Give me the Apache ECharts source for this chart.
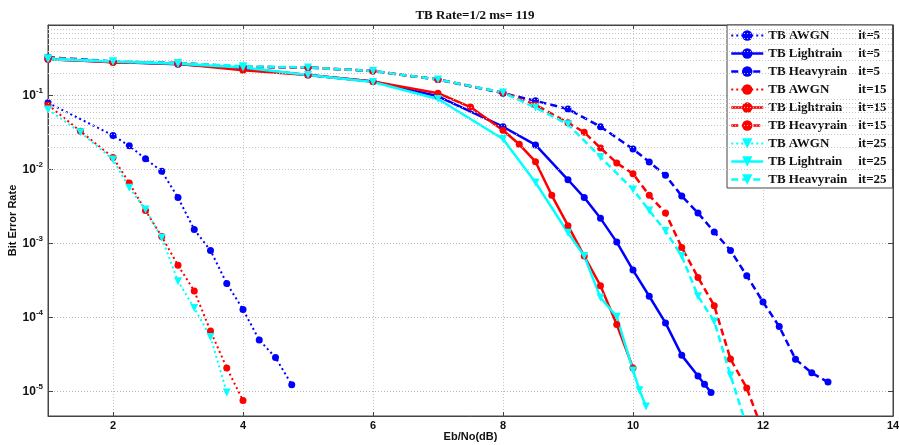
<!DOCTYPE html>
<html>
<head>
<meta charset="utf-8">
<script src="https://cdn.jsdelivr.net/npm/echarts@6/dist/echarts.min.js"></script>
<style>html,body{margin:0;padding:0;background:#fff}#chart{width:899px;height:445px}</style>
</head>
<body>
<div id="chart"></div>
<script>
// values (Eb/No in dB, BER)
var awgn5X = [1, 2, 2.25, 2.5, 2.75, 3, 3.25, 3.5, 3.75, 4, 4.25, 4.5, 4.75];
var awgn5Y = [0.08, 0.029, 0.021, 0.014, 0.0095, 0.0042, 0.00155, 0.00081, 0.00029, 0.000129, 5.0e-5, 2.9e-5, 1.24e-5];
var light5X = [1, 2, 3, 4, 5, 6, 7, 8, 8.5, 9, 9.25, 9.5, 9.75, 10, 10.25, 10.5, 10.75, 11, 11.1, 11.2];
var light5Y = [0.31, 0.285, 0.265, 0.235, 0.19, 0.155, 0.098, 0.038, 0.0216, 0.0073, 0.0042, 0.0022, 0.00105, 0.00044, 0.000195, 8.5e-5, 3.1e-5, 1.63e-5, 1.26e-5, 9.8e-6];
var heavy5X = [1, 2, 3, 4, 5, 6, 7, 8, 8.5, 9, 9.5, 10, 10.25, 10.5, 10.75, 11, 11.25, 11.5, 11.75, 12, 12.25, 12.5, 12.75, 13];
var heavy5Y = [0.33, 0.29, 0.275, 0.245, 0.24, 0.215, 0.165, 0.108, 0.085, 0.066, 0.038, 0.019, 0.0127, 0.0084, 0.0044, 0.0026, 0.00144, 0.00081, 0.00037, 0.000163, 7.6e-5, 2.75e-5, 1.8e-5, 1.35e-5];

var awgn15X = [1, 1.5, 2, 2.25, 2.5, 2.75, 3, 3.25, 3.5, 3.75, 4];
var awgn15Y = [0.075, 0.033, 0.0146, 0.0066, 0.0028, 0.00125, 0.00051, 0.00023, 6.6e-5, 2.1e-5, 7.6e-6];
var light15X = [1, 2, 3, 4, 5, 6, 7, 7.5, 8, 8.25, 8.5, 8.75, 9, 9.25, 9.5, 9.75, 10];
var light15Y = [0.31, 0.285, 0.27, 0.22, 0.19, 0.155, 0.108, 0.07, 0.034, 0.022, 0.0128, 0.0045, 0.00175, 0.00068, 0.00027, 8.1e-5, 2.1e-5];
var heavy15X = [1, 2, 3, 4, 5, 6, 7, 8, 8.5, 9, 9.25, 9.5, 9.75, 10, 10.25, 10.5, 10.75, 11, 11.25, 11.5, 11.75, 12];
var heavy15Y = [0.33, 0.28, 0.275, 0.245, 0.24, 0.215, 0.165, 0.11, 0.075, 0.043, 0.032, 0.0196, 0.0123, 0.0088, 0.0045, 0.0026, 0.00089, 0.00035, 0.000145, 2.76e-5, 1.12e-5, 2.9e-6];

var awgn25X = [1, 1.5, 2, 2.25, 2.5, 2.75, 3, 3.25, 3.5, 3.75];
var awgn25Y = [0.065, 0.032, 0.0137, 0.0057, 0.0029, 0.0012, 0.00031, 0.000135, 5.5e-5, 9.8e-6];
var light25X = [1, 2, 3, 4, 5, 6, 7, 8, 8.5, 9, 9.25, 9.5, 9.75, 10, 10.1, 10.2];
var light25Y = [0.31, 0.29, 0.27, 0.24, 0.19, 0.153, 0.09, 0.026, 0.0067, 0.0014, 0.00068, 0.000187, 0.000103, 1.94e-5, 1.05e-5, 6.3e-6];
var heavy25X = [1, 2, 3, 4, 5, 6, 7, 8, 8.5, 9, 9.5, 10, 10.25, 10.5, 10.75, 11, 11.25, 11.5, 11.75];
var heavy25Y = [0.32, 0.29, 0.275, 0.25, 0.24, 0.215, 0.165, 0.11, 0.069, 0.041, 0.0148, 0.0054, 0.0028, 0.00148, 0.00068, 0.000195, 8.9e-5, 1.66e-5, 3.4e-6];

var names = ['TB AWGN it=5', 'TB Lightrain it=5', 'TB Heavyrain it=5',
             'TB AWGN it=15', 'TB Lightrain it=15', 'TB Heavyrain it=15',
             'TB AWGN it=25', 'TB Lightrain it=25', 'TB Heavyrain it=25'];

function pts(xs, ys) { return xs.map(function (x, i) { return [x, ys[i]]; }); }

// minor log grid lines 2..9 per decade
var minorY = [];
for (var d = -6; d <= 0; d++) {
  for (var k = 2; k <= 9; k++) {
    var v = k * Math.pow(10, d);
    if (v > 4.7e-6 && v < 0.9) minorY.push(v);
  }
}

var DOT = [2, 3], DASH = [7, 4];
function mk(name, color, type, symbol, data, width) {
  return {
    name: name, type: 'line', data: data,
    symbol: symbol, symbolSize: symbol === 'triangle' ? 8 : 7,
    symbolRotate: symbol === 'triangle' ? 180 : 0,
    itemStyle: { color: color },
    lineStyle: { color: color, type: type, width: width },
    animation: false, z: 3
  };
}

var series = [
  { type: 'line', data: [], silent: true, animation: false,
    markLine: { silent: true, symbol: 'none', animation: false, label: { show: false },
      lineStyle: { color: '#c4c4c4', type: [1, 2], width: 1 },
      data: minorY.map(function (v) { return { yAxis: v }; }) } },
  mk(names[0], '#0000ff', DOT, 'circle', pts(awgn5X, awgn5Y), 2),
  mk(names[1], '#0000ff', 'solid', 'circle', pts(light5X, light5Y), 2.5),
  mk(names[2], '#0000ff', DASH, 'circle', pts(heavy5X, heavy5Y), 2.5),
  mk(names[3], '#ff0000', DOT, 'circle', pts(awgn15X, awgn15Y), 2),
  mk(names[4], '#ff0000', 'solid', 'circle', pts(light15X, light15Y), 2.5),
  mk(names[5], '#ff0000', DASH, 'circle', pts(heavy15X, heavy15Y), 2.5),
  mk(names[6], '#00ffff', DOT, 'triangle', pts(awgn25X, awgn25Y), 2),
  mk(names[7], '#00ffff', 'solid', 'triangle', pts(light25X, light25Y), 2.5),
  mk(names[8], '#00ffff', DASH, 'triangle', pts(heavy25X, heavy25Y), 2.5)
];

var legendData = series.slice(1).map(function (s) {
  return { name: s.name, lineStyle: { color: s.lineStyle.color, type: s.lineStyle.type, width: s.lineStyle.width } };
});

var chart = echarts.init(document.getElementById('chart'));
var option = {
  backgroundColor: '#fff',
  animation: false,
  title: {
    text: 'TB Rate=1/2 ms= 119', left: 470, top: 4, textAlign: 'center',
    textStyle: { fontFamily: 'Liberation Serif', fontWeight: 'bold', fontSize: 13, color: '#111' }
  },
  legend: {
    data: legendData, orient: 'vertical', left: 727, top: 25,
    itemWidth: 32, itemHeight: 13, itemGap: 5, padding: [4, 6, 2, 3],
    backgroundColor: '#fff', borderColor: '#444', borderWidth: 1,
    formatter: function (n) {
      var i = n.indexOf(' it=');
      return '{a|' + n.slice(0, i) + '}{b|' + n.slice(i + 1) + '}';
    },
    textStyle: {
      fontFamily: 'Liberation Serif', fontWeight: 'bold', fontSize: 13, color: '#111',
      rich: {
        a: { width: 90, fontFamily: 'Liberation Serif', fontWeight: 'bold', fontSize: 13, color: '#111' },
        b: { fontFamily: 'Liberation Serif', fontWeight: 'bold', fontSize: 13, color: '#111' }
      }
    }
  },
  grid: { left: 48, right: 6, top: 25, bottom: 29, outerBoundsMode: 'none', show: true, borderColor: '#444', borderWidth: 1, backgroundColor: '#fff' },
  xAxis: [
    {
      type: 'value', min: 1, max: 14, splitNumber: 6, position: 'bottom',
      name: 'Eb/No(dB)', nameLocation: 'middle', nameGap: 15, nameMoveOverlap: false,
      nameTextStyle: { fontFamily: 'Liberation Sans', fontWeight: 'bold', fontSize: 11, color: '#111' },
      axisLine: { lineStyle: { color: '#444' } },
      axisTick: { inside: true, length: 4, lineStyle: { color: '#444' } },
      axisLabel: {
        margin: 4, fontFamily: 'Liberation Sans', fontWeight: 'bold', fontSize: 11, color: '#111',
        formatter: function (v) { return v % 2 === 0 ? String(v) : ''; }
      },
      splitLine: { show: true, lineStyle: { color: '#c4c4c4', type: [1, 2] } }
    },
    {
      type: 'value', min: 1, max: 14, splitNumber: 6, position: 'top',
      axisLine: { lineStyle: { color: '#444' } },
      axisTick: { inside: true, length: 4, lineStyle: { color: '#444' } },
      axisLabel: { show: false }, splitLine: { show: false }
    }
  ],
  yAxis: [
    {
      type: 'log', logBase: 10, min: 4.7e-6, max: 0.9, splitNumber: 5, position: 'left',
      name: 'Bit Error Rate', nameLocation: 'middle', nameGap: 30, nameMoveOverlap: false,
      nameTextStyle: { fontFamily: 'Liberation Sans', fontWeight: 'bold', fontSize: 11, color: '#111' },
      axisLine: { show: true, lineStyle: { color: '#444' } },
      axisTick: { inside: true, length: 5, lineStyle: { color: '#444' } },
      axisLabel: {
        margin: 5,
        formatter: function (v) {
          var e = Math.log10(v);
          if (Math.abs(e - Math.round(e)) > 1e-6) return '';
          return '{b|10}{s|' + Math.round(e) + '}';
        },
        rich: {
          b: { fontFamily: 'Liberation Sans', fontWeight: 'bold', fontSize: 12, color: '#111' },
          s: { fontFamily: 'Liberation Sans', fontWeight: 'bold', fontSize: 8, color: '#111', padding: [0, 0, 9, 0] }
        }
      },
      splitLine: { show: true, lineStyle: { color: '#b8b8b8', type: [1, 2] } }
    },
    {
      type: 'log', logBase: 10, min: 4.7e-6, max: 0.9, splitNumber: 5, position: 'right',
      axisLine: { show: true, lineStyle: { color: '#444' } },
      axisTick: { inside: true, length: 5, lineStyle: { color: '#444' } },
      axisLabel: { show: false }, splitLine: { show: false }
    }
  ],
  series: series
};
chart.setOption(option);
</script>
</body>
</html>
